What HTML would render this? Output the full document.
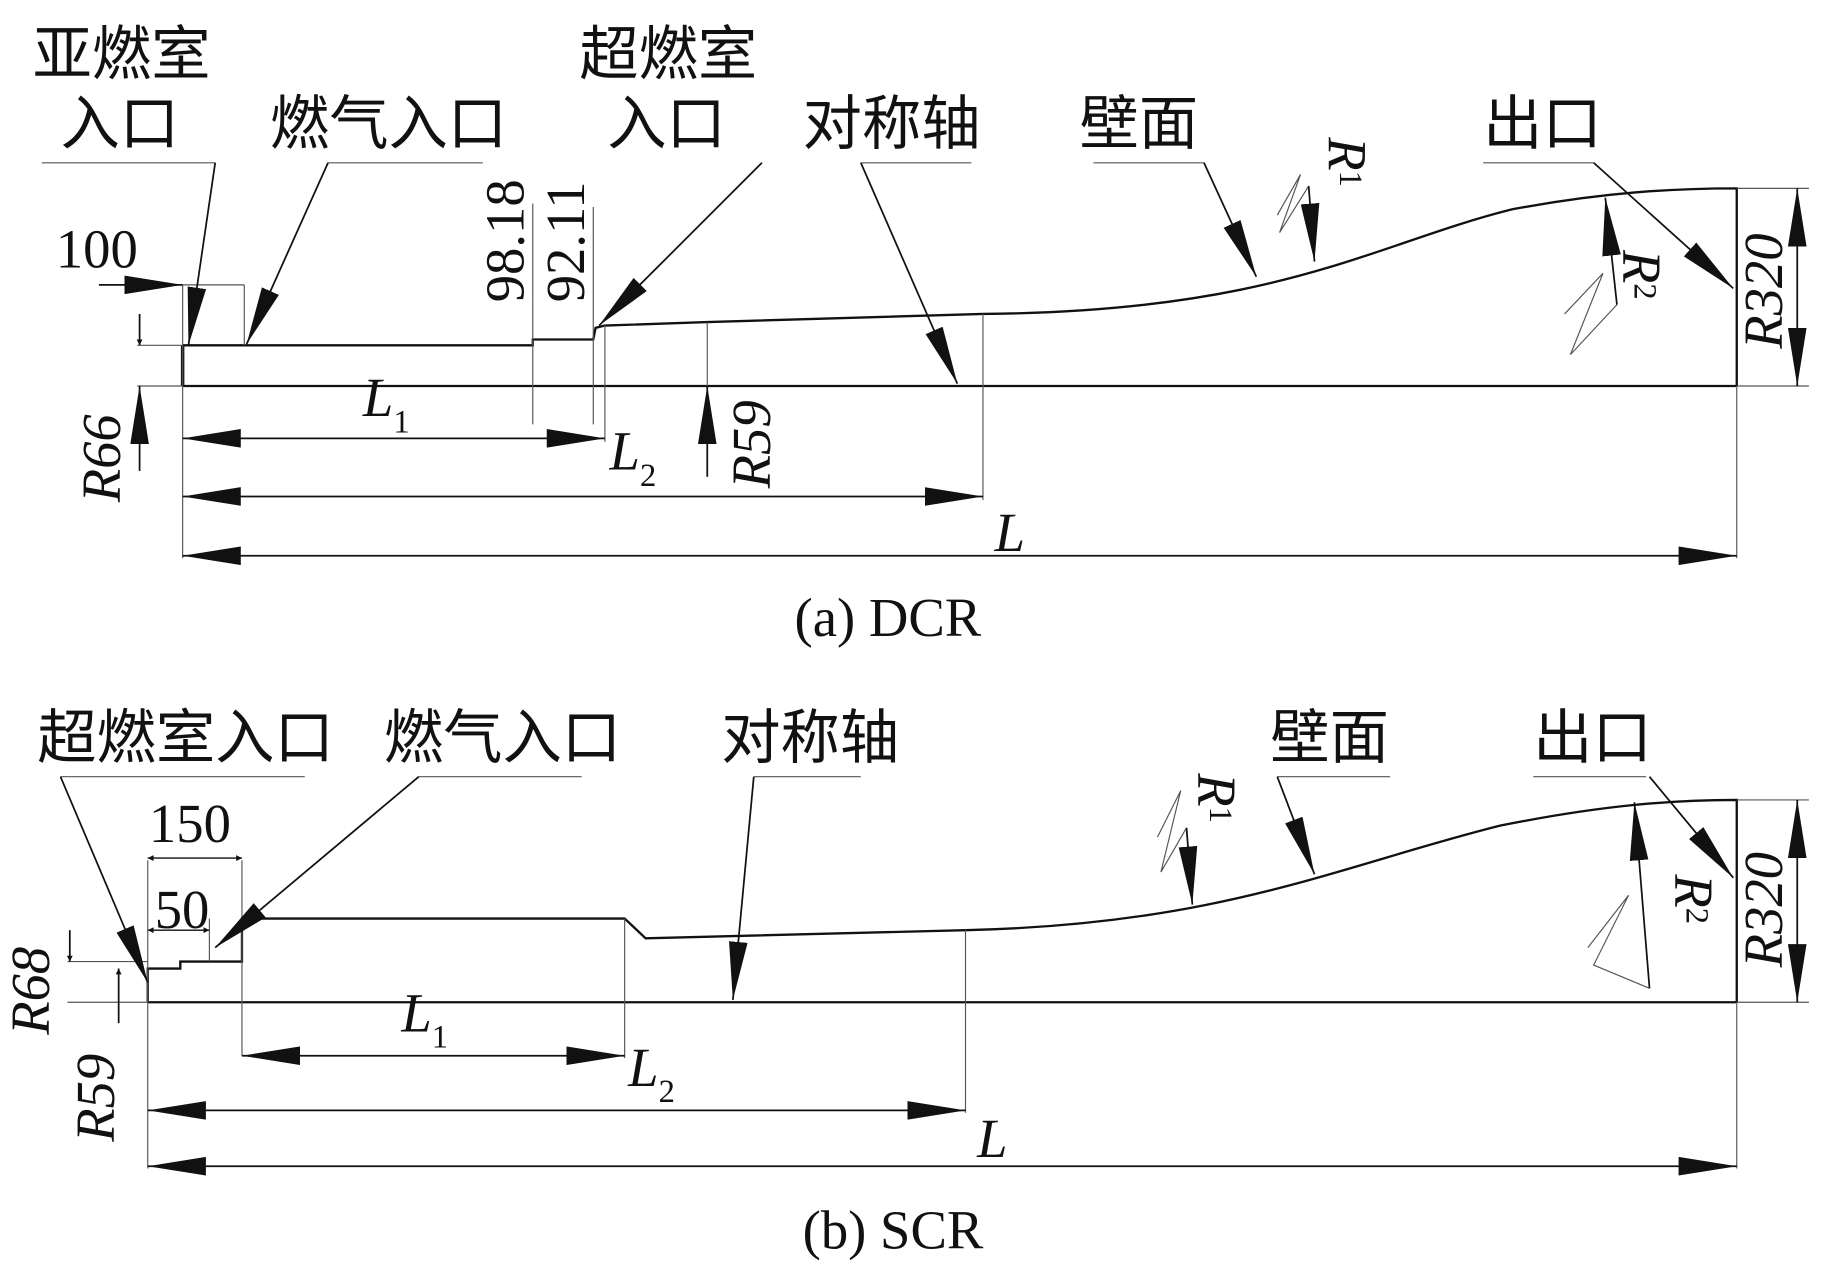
<!DOCTYPE html>
<html><head><meta charset="utf-8"><style>
html,body{margin:0;padding:0;background:#fff;}
svg{display:block;}
text{font-family:"Liberation Serif","Noto Serif CJK SC",serif;fill:#111;}
.cn{font-family:"Liberation Sans","Noto Sans CJK SC",sans-serif;font-size:51px;}
.t{font-size:47px;}
.it{font-size:47px;font-style:italic;}
</style></head><body>
<svg width="1824" height="1272" viewBox="0 0 1568 1094" preserveAspectRatio="none" xmlns="http://www.w3.org/2000/svg">
<defs>
<marker id="a" viewBox="0 0 10 10" refX="10" refY="5" markerWidth="10" markerHeight="5" markerUnits="userSpaceOnUse" orient="auto-start-reverse"><path d="M0,0 L10,5 L0,10z" fill="#111"/></marker>
<marker id="b" viewBox="0 0 50 16" refX="50" refY="8" markerWidth="50" markerHeight="16" markerUnits="userSpaceOnUse" orient="auto-start-reverse"><path d="M0,0 L50,8 L0,16z" fill="#111"/></marker>
</defs>
<g stroke="#111" fill="none">
<!-- (a) -->
<line x1="157" y1="332" x2="1493" y2="332" stroke-width="2"/>
<line x1="157" y1="297" x2="157" y2="332" stroke-width="3"/>
<path d="M157,297 L458,297 L458,292 L510,292 L512,282 L520,280 L608,277 L845,270 C1100,268 1180,210 1300,180 C1380,165 1440,162 1493,162 L1493,332" stroke-width="2"/>
<g stroke-width="1" stroke="#555">
<line x1="157" y1="245" x2="157" y2="480"/>
<line x1="157" y1="245" x2="210" y2="245"/><line x1="210" y1="245" x2="210" y2="297"/>
<line x1="118" y1="297" x2="157" y2="297"/><line x1="118" y1="332" x2="157" y2="332"/>
<line x1="458" y1="260" x2="458" y2="365"/><line x1="510" y1="178" x2="510" y2="365"/><line x1="520" y1="280" x2="520" y2="380"/>
<line x1="608" y1="277" x2="608" y2="410"/>
<line x1="845" y1="270" x2="845" y2="430"/>
<line x1="1493" y1="332" x2="1493" y2="480"/>
<line x1="1493" y1="162" x2="1555" y2="162"/><line x1="1493" y1="332" x2="1555" y2="332"/>
<line x1="36" y1="140" x2="185" y2="140"/><line x1="282" y1="140" x2="415" y2="140"/>
<line x1="740" y1="140" x2="835" y2="140"/><line x1="940" y1="140" x2="1035" y2="140"/>
<line x1="1275" y1="140" x2="1370" y2="140"/>
<path d="M1098,185 L1118,150 L1100,200 L1125,160"/>
<path d="M1345,270 L1378,235 L1350,305 L1390,262"/>
<line x1="458" y1="175" x2="458" y2="260"/>
</g>
<line x1="157" y1="377" x2="520" y2="377" stroke-width="1.5" marker-start="url(#b)" marker-end="url(#b)"/>
<line x1="157" y1="427" x2="845" y2="427" stroke-width="1.5" marker-start="url(#b)" marker-end="url(#b)"/>
<line x1="157" y1="478" x2="1493" y2="478" stroke-width="1.5" marker-start="url(#b)" marker-end="url(#b)"/>
<line x1="1545" y1="162" x2="1545" y2="332" stroke-width="1.5" marker-start="url(#b)" marker-end="url(#b)"/>
<line x1="85" y1="245" x2="157" y2="245" stroke-width="1.5" marker-end="url(#b)"/>
<line x1="120" y1="270" x2="120" y2="297" stroke-width="1.5" marker-end="url(#a)"/>
<line x1="120" y1="405" x2="120" y2="332" stroke-width="1.5" marker-end="url(#b)"/>
<line x1="608" y1="410" x2="608" y2="332" stroke-width="1.5" marker-end="url(#b)"/>
<line x1="185" y1="140" x2="162" y2="297" stroke-width="1.5" marker-end="url(#b)"/>
<line x1="282" y1="140" x2="212" y2="296" stroke-width="1.5" marker-end="url(#b)"/>
<line x1="655" y1="140" x2="515" y2="280" stroke-width="1.5" marker-end="url(#b)"/>
<line x1="740" y1="140" x2="823" y2="330" stroke-width="1.5" marker-end="url(#b)"/>
<line x1="1035" y1="140" x2="1080" y2="238" stroke-width="1.5" marker-end="url(#b)"/>
<line x1="1125" y1="160" x2="1130" y2="225" stroke-width="1.5" marker-end="url(#b)"/>
<line x1="1370" y1="140" x2="1490" y2="248" stroke-width="1.5" marker-end="url(#b)"/>
<line x1="1390" y1="262" x2="1380" y2="170" stroke-width="1.5" marker-end="url(#b)"/>
<!-- (b) -->
<line x1="127" y1="862" x2="1493" y2="862" stroke-width="2"/>
<path d="M127,862 L127,833 L155,833 L155,827 L208,827 L208,790 L537,790 L555,807 L830,800 C1050,795 1150,745 1290,710 C1380,692 1440,688 1493,688 L1493,862" stroke-width="2"/>
<g stroke-width="1" stroke="#555">
<line x1="127" y1="833" x2="127" y2="1005"/>
<line x1="127" y1="740" x2="127" y2="833"/><line x1="208" y1="740" x2="208" y2="908"/>
<line x1="180" y1="790" x2="180" y2="827"/>
<line x1="537" y1="790" x2="537" y2="910"/>
<line x1="830" y1="800" x2="830" y2="957"/>
<line x1="1493" y1="862" x2="1493" y2="1005"/>
<line x1="1493" y1="688" x2="1555" y2="688"/><line x1="1493" y1="862" x2="1555" y2="862"/>
<line x1="58" y1="827" x2="127" y2="827"/><line x1="58" y1="862" x2="127" y2="862"/>
<line x1="52" y1="668" x2="262" y2="668"/><line x1="360" y1="668" x2="500" y2="668"/>
<line x1="648" y1="668" x2="740" y2="668"/><line x1="1098" y1="668" x2="1195" y2="668"/>
<line x1="1318" y1="668" x2="1415" y2="668"/>
<path d="M995,720 L1015,680 L998,750 L1020,712"/>
<path d="M1365,815 L1400,770 L1370,830 L1418,850"/>
</g>
<line x1="127" y1="738" x2="208" y2="738" stroke-width="1.2" marker-start="url(#a)" marker-end="url(#a)"/>
<line x1="127" y1="800" x2="180" y2="800" stroke-width="1.2" marker-start="url(#a)" marker-end="url(#a)"/>
<line x1="208" y1="908" x2="537" y2="908" stroke-width="1.5" marker-start="url(#b)" marker-end="url(#b)"/>
<line x1="127" y1="955" x2="830" y2="955" stroke-width="1.5" marker-start="url(#b)" marker-end="url(#b)"/>
<line x1="127" y1="1003" x2="1493" y2="1003" stroke-width="1.5" marker-start="url(#b)" marker-end="url(#b)"/>
<line x1="1545" y1="688" x2="1545" y2="862" stroke-width="1.5" marker-start="url(#b)" marker-end="url(#b)"/>
<line x1="60" y1="800" x2="60" y2="827" stroke-width="1.5" marker-end="url(#a)"/>
<line x1="102" y1="880" x2="102" y2="833" stroke-width="1.5" marker-end="url(#a)"/>
<line x1="52" y1="668" x2="127" y2="845" stroke-width="1.5" marker-end="url(#b)"/>
<line x1="360" y1="668" x2="185" y2="815" stroke-width="1.5" marker-end="url(#b)"/>
<line x1="648" y1="668" x2="630" y2="860" stroke-width="1.5" marker-end="url(#b)"/>
<line x1="1098" y1="668" x2="1130" y2="752" stroke-width="1.5" marker-end="url(#b)"/>
<line x1="1020" y1="712" x2="1025" y2="778" stroke-width="1.5" marker-end="url(#b)"/>
<line x1="1418" y1="668" x2="1490" y2="755" stroke-width="1.5" marker-end="url(#b)"/>
<line x1="1418" y1="850" x2="1405" y2="690" stroke-width="1.5" marker-end="url(#b)"/>
</g>
<!-- labels (a) -->
<text class="cn" x="28" y="64">亚燃室</text>
<text class="cn" x="52" y="124">入口</text>
<text class="cn" x="232" y="124">燃气入口</text>
<text class="cn" x="498" y="64">超燃室</text>
<text class="cn" x="522" y="124">入口</text>
<text class="cn" x="690" y="124">对称轴</text>
<text class="cn" x="928" y="124">壁面</text>
<text class="cn" x="1275" y="124">出口</text>
<text class="t" x="48" y="230">100</text>
<text class="t" transform="translate(450,260) rotate(-90)">98.18</text>
<text class="t" transform="translate(502,260) rotate(-90)">92.11</text>
<text class="it" transform="translate(103,432) rotate(-90)">R66</text>
<text class="it" transform="translate(662,420) rotate(-90)">R59</text>
<text class="it" transform="translate(1532,300) rotate(-90)">R320</text>
<text class="it" x="312" y="358">L<tspan font-size="28" font-style="normal" dy="14">1</tspan></text>
<text class="it" x="524" y="404">L<tspan font-size="28" font-style="normal" dy="14">2</tspan></text>
<text class="it" x="855" y="474">L</text>
<text class="it" transform="translate(1142,118) rotate(90)">R<tspan font-size="28" font-style="normal" dy="-10">1</tspan></text>
<text class="it" transform="translate(1395,215) rotate(90)">R<tspan font-size="28" font-style="normal" dy="-10">2</tspan></text>
<text class="t" x="683" y="547">(a) DCR</text>
<!-- labels (b) -->
<text class="cn" x="32" y="652">超燃室入口</text>
<text class="cn" x="330" y="652">燃气入口</text>
<text class="cn" x="620" y="652">对称轴</text>
<text class="cn" x="1092" y="652">壁面</text>
<text class="cn" x="1318" y="652">出口</text>
<text class="t" x="128" y="724">150</text>
<text class="t" x="133" y="798">50</text>
<text class="it" transform="translate(42,890) rotate(-90)">R68</text>
<text class="it" transform="translate(98,982) rotate(-90)">R59</text>
<text class="it" transform="translate(1532,832) rotate(-90)">R320</text>
<text class="it" x="345" y="887">L<tspan font-size="28" font-style="normal" dy="14">1</tspan></text>
<text class="it" x="540" y="934">L<tspan font-size="28" font-style="normal" dy="14">2</tspan></text>
<text class="it" x="840" y="995">L</text>
<text class="it" transform="translate(1030,665) rotate(90)">R<tspan font-size="28" font-style="normal" dy="-10">1</tspan></text>
<text class="it" transform="translate(1440,752) rotate(90)">R<tspan font-size="28" font-style="normal" dy="-10">2</tspan></text>
<text class="t" x="690" y="1074">(b) SCR</text>
</svg>
</body></html>
